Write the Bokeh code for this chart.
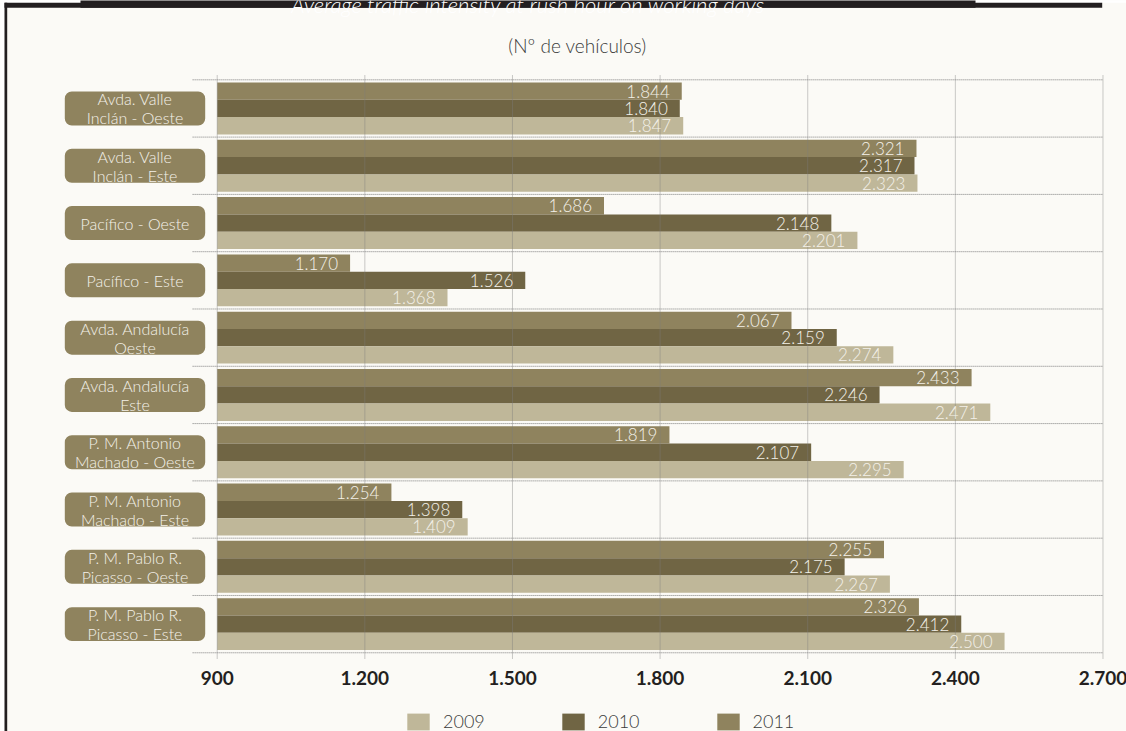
from bokeh.plotting import figure
from bokeh.models import Range1d, ColumnDataSource, Legend, LegendItem
from bokeh.transform import dodge
from bokeh.core.properties import value
from bokeh.embed import file_html
from bokeh.resources import INLINE

# ---------------- data ----------------
categories = [
    "Avda. Valle\nInclán - Oeste",
    "Avda. Valle\nInclán - Este",
    "Pacífico - Oeste",
    "Pacífico - Este",
    "Avda. Andalucía\nOeste",
    "Avda. Andalucía\nEste",
    "P. M. Antonio\nMachado - Oeste",
    "P. M. Antonio\nMachado - Este",
    "P. M. Pablo R.\nPicasso - Oeste",
    "P. M. Pablo R.\nPicasso - Este",
]
v2009 = [1847, 2323, 2201, 1368, 2274, 2471, 2295, 1409, 2267, 2500]
v2010 = [1840, 2317, 2148, 1526, 2159, 2246, 2107, 1398, 2175, 2412]
v2011 = [1844, 2321, 1686, 1170, 2067, 2433, 1819, 1254, 2255, 2326]
years = ["2009", "2010", "2011"]
x_ticks = [900, 1200, 1500, 1800, 2100, 2400, 2700]
title_text = "Average traffic intensity at rush hour on working days"
subtitle_text = "(Nº de vehículos)"


def fmt(v):
    return f"{v:,}".replace(",", ".")


tick_labels = [fmt(t) for t in x_ticks]

# ---------------- style ----------------
BG = "#fbfaf6"
DARK = "#231f20"
C2009 = "#bfb799"
C2010 = "#706544"
C2011 = "#8f835e"
LBL = "#f4f1e9"
GRID = "#7d7d7d"
FONT = value("Lato")
LIGHT = value("Lato Light")

# categories placed top-to-bottom at positions 0..n-1
src = ColumnDataSource(dict(
    cat=categories,
    pos=list(range(len(categories))),
    v2009=v2009, v2010=v2010, v2011=v2011,
    l2009=[fmt(v) for v in v2009],
    l2010=[fmt(v) for v in v2010],
    l2011=[fmt(v) for v in v2011],
))

p = figure(width=1126, height=731,
           x_range=Range1d(459.6, 2747.8), y_range=Range1d(10.874, -1.884),
           output_backend="svg", toolbar_location=None,
           min_border=0, min_border_left=0, min_border_right=0,
           min_border_top=0, min_border_bottom=0,
           background_fill_color=BG, border_fill_color=BG,
           outline_line_color=None)
p.axis.visible = False
p.grid.visible = False
p.extra_x_ranges = {"ref": Range1d(0, 1126)}
p.extra_y_ranges = {"ref": Range1d(731, 0)}

# white strip above / left of the frame lines
p.quad(left=[-5], right=[1130], top=[-5], bottom=[2.3], x_range_name="ref",
       y_range_name="ref", fill_color="#ffffff", line_color=None)
p.quad(left=[-5], right=[4], top=[-5], bottom=[740], x_range_name="ref",
       y_range_name="ref", fill_color="#ffffff", line_color=None)
# frame decorations (top band, lines)
p.quad(left=[80], right=[975], top=[-5], bottom=[7.3], x_range_name="ref",
       y_range_name="ref", fill_color=DARK, line_color=None)
p.quad(left=[4], right=[1101.7], top=[2.3], bottom=[7.3], x_range_name="ref",
       y_range_name="ref", fill_color=DARK, line_color=None)
p.quad(left=[4], right=[6.7], top=[2.3], bottom=[740], x_range_name="ref",
       y_range_name="ref", fill_color=DARK, line_color=None)
p.text(x=[528], y=[3.5], text=[title_text], x_range_name="ref", y_range_name="ref",
       text_align="center", text_baseline="alphabetic", text_font=LIGHT,
       text_font_style="italic", text_font_size="22px", text_color="#ffffff")
p.text(x=[577], y=[45], text=[subtitle_text], x_range_name="ref", y_range_name="ref",
       text_align="center", text_baseline="middle", text_font=LIGHT,
       text_font_size="19px", text_color="#3a3a3a")

# category label boxes
p.hbar(y="pos", left=64.3, right=204.7, height=0.593, x_range_name="ref",
       fill_color=C2011, line_color=None, border_radius=7, source=src)
p.text(x=134.5, y="pos", text="cat", x_range_name="ref", source=src,
       text_align="center", text_baseline="middle", text_font=LIGHT,
       text_font_size="16px", text_line_height=1.0, text_color=LBL)

# bars
bh = 0.302
r11 = p.hbar(y=dodge("pos", -bh), left=900, right="v2011", height=bh,
             fill_color=C2011, line_color=None, source=src)
r10 = p.hbar(y=dodge("pos", 0), left=900, right="v2010", height=bh,
             fill_color=C2010, line_color=None, source=src)
r09 = p.hbar(y=dodge("pos", bh), left=900, right="v2009", height=bh,
             fill_color=C2009, line_color=None, source=src)

# gridlines
p.segment(x0=x_ticks[0] - 50, x1=x_ticks[-1], y0=dodge("pos", -0.5),
          y1=dodge("pos", -0.5), source=src, line_color=GRID,
          line_width=1, line_dash="1 1")
last = ColumnDataSource(dict(pos=[len(categories) - 1]))
p.segment(x0=x_ticks[0] - 50, x1=x_ticks[-1], y0=dodge("pos", 0.5),
          y1=dodge("pos", 0.5), source=last, line_color=GRID,
          line_width=1, line_dash="1 1")
p.segment(x0=x_ticks, x1=x_ticks, y0=[75] * len(x_ticks), y1=[658] * len(x_ticks),
          y_range_name="ref", line_color=GRID, line_width=1, line_dash="1 1",
          line_alpha=0.8)

# value labels
for col, off in (("l2011", -bh), ("l2010", 0), ("l2009", bh)):
    p.text(x="v" + col[1:], y=dodge("pos", off), text=col, source=src,
           x_offset=-12, text_align="right", text_baseline="middle",
           text_font=LIGHT, text_font_size="17px", text_color=LBL)

# tick labels
p.text(x=x_ticks, y=[677] * len(x_ticks), text=tick_labels, y_range_name="ref",
       text_align="center", text_baseline="middle", text_font=FONT,
       text_font_style="bold", text_font_size="19px", text_color=DARK)

legend = Legend(items=[LegendItem(label=years[0], renderers=[r09]),
                       LegendItem(label=years[1], renderers=[r10]),
                       LegendItem(label=years[2], renderers=[r11])],
                orientation="horizontal", location=(404, -1),
                glyph_width=28, glyph_height=21, label_standoff=11,
                label_width=40, spacing=74, padding=0, margin=0,
                background_fill_alpha=0, border_line_alpha=0,
                label_text_font="Lato Light", label_text_font_size="18px",
                label_text_color="#3a3a3a")
p.add_layout(legend, "center")

open("out.html", "w").write(file_html(p, INLINE))
